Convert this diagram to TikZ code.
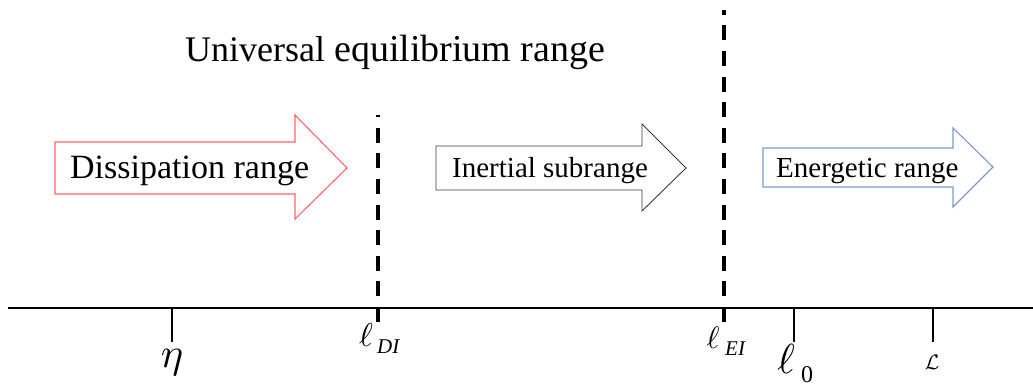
\documentclass[tikz,border=0pt]{standalone}
\usepackage{graphicx}
\usepackage{fontspec}
\setmainfont{Liberation Serif}
\definecolor{redarrow}{HTML}{FF6464}
\definecolor{bluearrow}{HTML}{7C9ACB}
\definecolor{grayarrow}{HTML}{3C3C3C}
\tikzset{
  arrowshape/.style={line width=1.1pt, fill=white, line join=miter},
  axisline/.style={line width=2pt},
  tickline/.style={line width=2pt},
  dashline/.style={line width=3.6pt, dash pattern=on 15pt off 10.6pt},
  lbl/.style={inner sep=0pt, anchor=base west},
  sym/.style={inner sep=0pt},
}
\begin{document}
\begin{tikzpicture}[x=1pt,y=1pt]
\useasboundingbox (0,0) rectangle (1033,383);
% axis
\coordinate (axL) at (8,75);
\coordinate (axR) at (1033,75);
\draw[axisline] (axL) -- (axR);
% ticks
\coordinate (etaT) at (172,75);   \coordinate (etaB) at (172,41);
\coordinate (l0T) at (794,75);    \coordinate (l0B) at (794,41);
\coordinate (LT) at (933,75);     \coordinate (LB) at (933,41);
\draw[tickline] (etaT) -- (etaB);
\draw[tickline] (l0T) -- (l0B);
\draw[tickline] (LT) -- (LB);
% dashed separators
\coordinate (diB) at (378,61);  \coordinate (diT) at (378,268);
\coordinate (eiB) at (724,61);  \coordinate (eiT) at (724,373);
\draw[dashline] (diB) -- (diT);
\draw[dashline] (eiB) -- (eiT);
% arrows
\draw[arrowshape, draw=redarrow]
  (55,241) -- (295,241) -- (295,268) -- (347,215) -- (295,164) -- (295,189) -- (55,189) -- cycle;
\draw[arrowshape, draw=grayarrow, line width=0.9pt]
  (436,237) -- (642,237) -- (642,259) -- (686,215) -- (642,172) -- (642,193) -- (436,193) -- cycle;
\draw[arrowshape, draw=bluearrow]
  (763,235) -- (953,235) -- (953,255) -- (993,216) -- (953,176) -- (953,196) -- (763,196) -- cycle;
% texts
\node[lbl, font=\fontsize{34}{34}\selectfont] (diss) at (70,204) {Dissipation range};
\node[lbl, font=\fontsize{29}{29}\selectfont] (iner) at (452,205) {Inertial subrange};
\node[lbl, font=\fontsize{29}{29}\selectfont] (ener) at (776,205) {Energetic range};
\node[lbl] (univ) at (185,321) {\fontsize{36}{36}\selectfont Universal \fontsize{38}{38}\selectfont equilibrium range};
% axis labels
\node[sym] (eta) at (172,20) {\scalebox{4.2}{$\eta$}};
\node[sym] (lDI) at (366,48) {\scalebox{3.3}{$\ell$}};
\node[lbl, font=\fontsize{21}{21}\selectfont\itshape] (sDI) at (377,30) {DI};
\node[sym] (lEI) at (713,45) {\scalebox{3.1}{$\ell$}};
\node[lbl, font=\fontsize{21}{21}\selectfont\itshape] (sEI) at (725,28) {EI};
\node[sym] (l0) at (786,24) {\scalebox{4.2}{$\ell$}};
\node[lbl, font=\fontsize{24}{24}\selectfont] (s0) at (801,1) {0};
\node[sym] (Lc) at (932,21) {\scalebox{2.1}{$\mathcal{L}$}};
\end{tikzpicture}
\end{document}
